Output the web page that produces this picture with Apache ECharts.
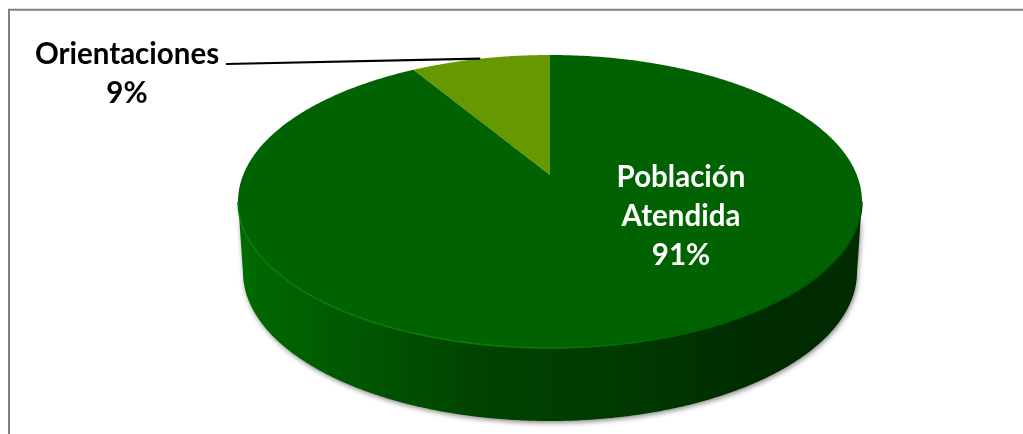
<!DOCTYPE html>
<html>
<head>
<meta charset="utf-8">
<style>html,body{margin:0;padding:0;background:#fff;overflow:hidden}#c{width:1023px;height:434px}</style>
<script src="https://cdn.jsdelivr.net/npm/echarts@6/dist/echarts.min.js"></script>
</head>
<body>
<div id="c"></div>
<script>
const categories = ['Orientaciones', 'Población\nAtendida'];
const values = [8.6, 91.4];
const sliceColors = ['#669900', '#006200'];

const chart = echarts.init(document.getElementById('c'), null, {renderer: 'canvas'});
const total = values.reduce((a, b) => a + b, 0);

// Tilted-disc projection: the pie's centre falls above the ellipse centre.
const TOP = {cx: 550, cy: 201.5, rx: 312, ry: 146.5};
const BOT = {cx: 550, cy: 272, rx: 307, ry: 149};
const K = -0.181;
const project = (e, deg) => {
  const t = deg * Math.PI / 180, u = Math.sin(t), v = -Math.cos(t), d = 1 + K * v;
  return [e.cx + e.rx * u * Math.sqrt(1 - K * K) / d, e.cy + e.ry * (v + K) / d];
};
const arc = (e, a, b) => {
  const n = Math.max(2, Math.ceil(Math.abs(b - a) * 2)), pts = [];
  for (let i = 0; i <= n; i++) pts.push(project(e, a + (b - a) * i / n));
  return pts;
};
const FRONT_A = Math.acos(K) * 180 / Math.PI, FRONT_B = 360 - FRONT_A;

const wallFill = {type: 'linear', x: 238, y: 0, x2: 862, y2: 0, global: true, colorStops: [
  {offset: 0, color: '#006a00'}, {offset: 0.18, color: '#005800'}, {offset: 0.38, color: '#004400'},
  {offset: 0.62, color: '#003a00'}, {offset: 0.86, color: '#002a00'}, {offset: 1, color: '#002c00'}
]};
const rimStroke = {type: 'linear', x: 238, y: 0, x2: 862, y2: 0, global: true, colorStops: [
  {offset: 0, color: '#0a8008'}, {offset: 0.5, color: '#0a7a08'}, {offset: 0.75, color: '#006000'}, {offset: 1, color: '#004a00'}
]};

const labelPos = [
  {x: 127, y: 74, color: '#000'},
  {x: 681, y: 216, color: '#fff'}
];
const LEADER_START = [226, 64];

function renderSlice(params, api) {
  const i = params.dataIndex;
  // The first slice ends at twelve o'clock; the next one starts there.
  const a0 = i === 0 ? -values[0] / total * 360 : 0;
  const a1 = a0 + api.value(1) / total * 360;
  const children = [];
  // wall: only the part of the slice that faces the viewer
  const fa = Math.max(a0, FRONT_A), fb = Math.min(a1, FRONT_B);
  if (fb > fa) {
    children.push({
      type: 'polygon', z2: 1,
      shape: {points: arc(TOP, fa, fb).concat(arc(BOT, fb, fa))},
      style: {fill: wallFill, shadowBlur: 5, shadowColor: 'rgba(0,0,0,0.45)', shadowOffsetX: 1, shadowOffsetY: 2}
    });
  }
  // top face
  children.push({
    type: 'polygon', z2: 2,
    shape: {points: arc(TOP, a0, a1).concat([[TOP.cx, TOP.cy + TOP.ry * K]])},
    style: {fill: sliceColors[i]}
  });
  if (fb > fa) {
    children.push({
      type: 'polyline', z2: 3,
      shape: {points: arc(TOP, fa, fb)},
      style: {fill: null, stroke: rimStroke, lineWidth: 1.4}
    });
  }
  if (i === 0) {
    const end = project(TOP, (a0 + a1) / 2);
    children.push({
      type: 'line', z2: 4,
      shape: {x1: LEADER_START[0], y1: LEADER_START[1], x2: end[0], y2: end[1]},
      style: {stroke: '#000', lineWidth: 2.2}
    });
  }
  const p = labelPos[i];
  children.push({
    type: 'text', z2: 5, x: p.x, y: p.y,
    style: {
      text: categories[i] + '\n' + Math.round(api.value(1)) + '%',
      fill: p.color, font: 'bold 29.5px Lato, sans-serif', lineHeight: 39,
      align: 'center', verticalAlign: 'middle'
    }
  });
  return {type: 'group', children};
}

chart.setOption({
  animation: false,
  backgroundColor: '#fff',
  graphic: [{
    type: 'polyline', silent: true,
    shape: {points: [[9, 434], [9, 9.8], [1023, 9.8]]},
    style: {fill: null, stroke: '#808080', lineWidth: 2}
  }],
  series: [{
    type: 'custom',
    coordinateSystem: 'none',
    renderItem: renderSlice,
    data: categories.map((c, i) => [c, values[i]])
  }]
});
</script>
</body>
</html>
